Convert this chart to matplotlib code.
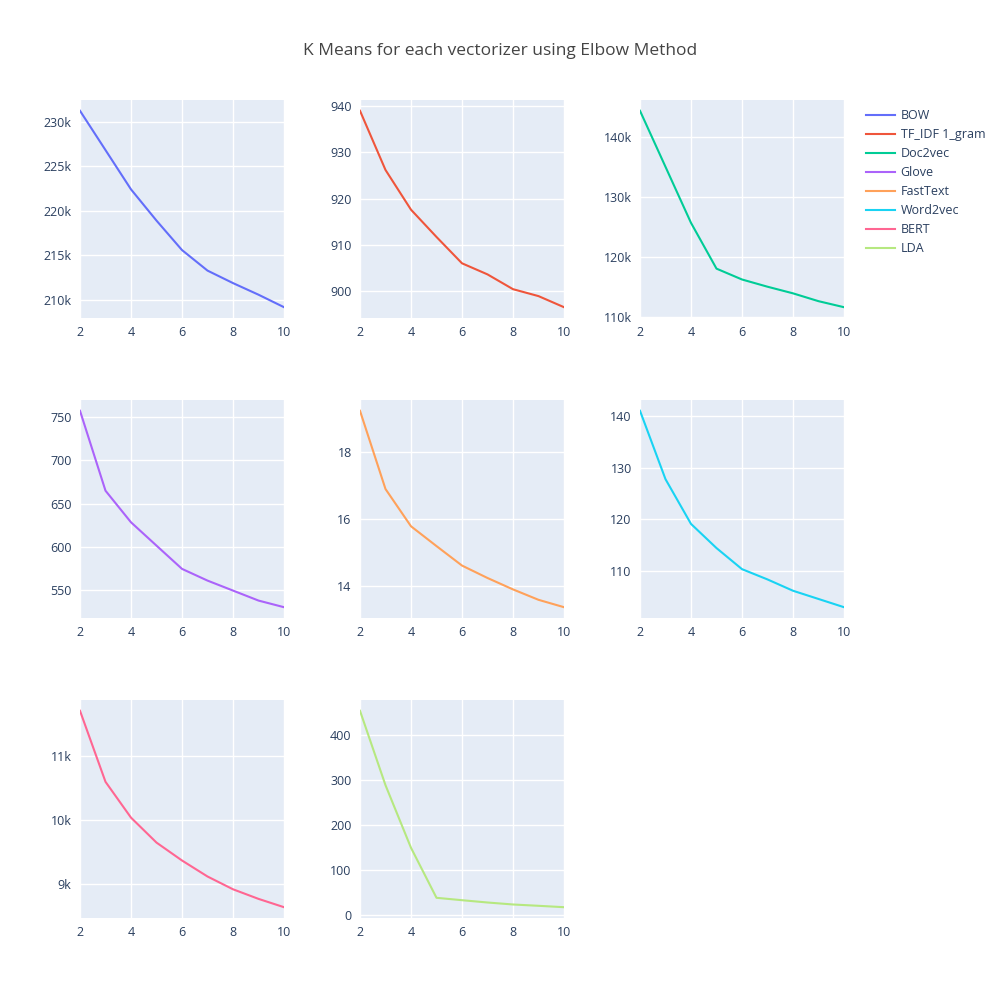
import matplotlib.pyplot as plt
from matplotlib.ticker import MultipleLocator, FuncFormatter
from matplotlib.lines import Line2D

plt.rcParams['font.family'] = ['Open Sans', 'DejaVu Sans']

# valores (k = 2..10)
k_values = [2, 3, 4, 5, 6, 7, 8, 9, 10]
names = ['BOW', 'TF_IDF 1_gram', 'Doc2vec', 'Glove', 'FastText', 'Word2vec', 'BERT', 'LDA']

bow = [231200, 226800, 222400, 218900, 215600, 213300, 211900, 210600, 209200]
tfidf = [939.0, 926.2, 917.6, 911.7, 906.0, 903.6, 900.4, 898.9, 896.5]
doc2vec = [144300, 135000, 125700, 118100, 116300, 115100, 114000, 112700, 111700]
glove = [757.7, 664.9, 628.2, 601.1, 574.1, 560.5, 548.9, 537.3, 529.6]
fasttext = [19.22, 16.89, 15.78, 15.19, 14.61, 14.24, 13.90, 13.59, 13.37]
word2vec = [141.1, 127.8, 119.1, 114.4, 110.3, 108.3, 106.1, 104.5, 102.9]
bert = [11710, 10600, 10040, 9650, 9370, 9120, 8920, 8770, 8640]
lda = [452.5, 287.8, 149.2, 38.5, 33.2, 28.1, 23.7, 20.8, 17.7]

series = [bow, tfidf, doc2vec, glove, fasttext, word2vec, bert, lda]
colors = ['#636EFA', '#EF553B', '#00CC96', '#AB63FA', '#FFA15A', '#19D3F3', '#FF6692', '#B6E880']
y_steps = [5000, 10, 10000, 50, 2, 10, 1000, 100]
use_k = [True, False, True, False, False, False, True, False]

text_color = '#2a3f5f'
bg_color = '#E5ECF6'

fig = plt.figure(figsize=(10, 10), dpi=100)

# posições dos painéis (grade 3x3 estilo plotly)
lefts = [0.08, 0.36, 0.64]
bottoms = [0.682, 0.382, 0.082]
w, h = 0.204, 0.218

def k_fmt(v, pos):
    return f'{v/1000:g}k'

for i, (vals, col) in enumerate(zip(series, colors)):
    row, c = divmod(i, 3)
    ax = fig.add_axes([lefts[c], bottoms[row], w, h])
    ax.set_facecolor(bg_color)
    ax.plot(k_values, vals, color=col, linewidth=1.5, solid_joinstyle='round')
    ax.set_xlim(2, 10)
    ax.margins(y=0.055)
    ax.xaxis.set_major_locator(MultipleLocator(2))
    ax.yaxis.set_major_locator(MultipleLocator(y_steps[i]))
    if use_k[i]:
        ax.yaxis.set_major_formatter(FuncFormatter(k_fmt))
    ax.grid(True, color='white', linewidth=1)
    ax.set_axisbelow(True)
    for s in ax.spines.values():
        s.set_visible(False)
    ax.tick_params(length=0, labelsize=9, colors=text_color, pad=6)

fig.suptitle('K Means for each vectorizer using Elbow Method', y=0.957,
             fontsize=12.5, color='#444444')

handles = [Line2D([], [], color=c, linewidth=1.5) for c in colors]
fig.legend(handles, names, loc='upper left', bbox_to_anchor=(0.855, 0.902),
           frameon=False, fontsize=9, labelcolor=text_color,
           handlelength=2.3, handletextpad=0.45, labelspacing=0.48)

fig.savefig('out.png', dpi=100, facecolor='white')
